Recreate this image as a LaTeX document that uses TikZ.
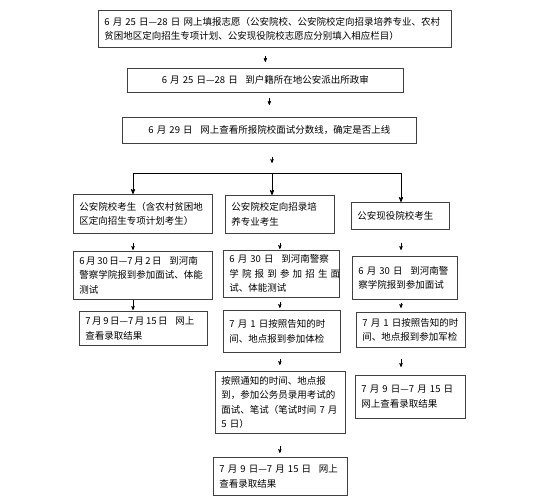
\documentclass[tikz,border=0pt]{standalone}
\usepackage{fontspec}
\setmainfont{Noto Sans CJK SC}
\usetikzlibrary{arrows,positioning}
\newcommand\wgap{\hspace{0.8em}}

\begin{document}
\begin{tikzpicture}[x=1pt,y=-1pt,
  box/.style 2 args={draw=black!75, line width=0.7pt, anchor=north west, align=left,
    inner xsep=6pt, inner ysep=2pt, text width=#1, minimum height=#2,
    font=\fontsize{9.5}{14.5}\selectfont},
  arr/.style={->, >=stealth', line width=0.5pt},
  brarr/.style={->, >=stealth', line width=0.8pt}]
  \useasboundingbox (0,0) rectangle (550,501);

  % top steps
  \node[box={341pt}{37pt}] (fill) at (98,10)
    {\mbox{6~月~25~日—28~日~网上填报志愿（公安院校、公安院校定向招录培养专业、农村}\\
     贫困地区定向招生专项计划、公安现役院校志愿应分别填入相应栏目）};
  \node[box={264pt}{24pt}, align=center] (audit) at (127,68)
    {\mbox{6~月~25~日—28~日\wgap 到户籍所在地公安派出所政审}};
  \node[box={282pt}{26pt}, align=center] (line) at (122,117)
    {\mbox{6~月~29~日\wgap 网上查看所报院校面试分数线，确定是否上线}};

  % branch
  \coordinate (jl) at (133,173);
  \coordinate (jm) at (272,173);
  \coordinate (jr) at (401,173);

  % left column
  \node[box={127pt}{39pt}] (ga) at (73,194)
    {公安院校考生（含农村贫困地\\区定向招生专项计划考生）};
  \node[box={127pt}{48pt}] (gatest) at (73,251)
    {\mbox{6\,月\,30\,日—7\,月\,2\,日\wgap 到河南}\\警察学院报到参加面试、体能\\测试};
  \node[box={116pt}{34pt}] (garesult) at (79,311)
    {\mbox{7\,月\,9\,日—7\,月\,15\,日\wgap 网上}\\查看录取结果};

  % middle column
  \node[box={97pt}{38pt}] (dx) at (225,195)
    {公安院校定向招录培\\养专业考生};
  \node[box={104pt}{47pt}] (dxtest) at (223,250)
    {\mbox{6~月~30~日\wgap 到河南警察}\\\makebox[\linewidth][s]{学 院 报 到 参 加 招 生 面}\\试、体能测试};
  \node[box={105pt}{42pt}] (dxcheck) at (223,310)
    {\mbox{7~月~1~日按照告知的时}\\间、地点报到参加体检};
  \node[box={118pt}{62pt}] (dxexam) at (215,371)
    {按照通知的时间、地点报\\到，参加公务员录用考试的\\\mbox{面试、笔试（笔试时间~7~月}\\5~日）};
  \node[box={122pt}{38pt}] (dxresult) at (213,457)
    {\mbox{7~月~9~日—7~月~15~日\wgap 网上}\\查看录取结果};

  % right column
  \node[box={86pt}{27pt}] (xy) at (351,202) {公安现役院校考生};
  \node[box={93pt}{43pt}] (xytest) at (352,256)
    {\mbox{6~月~30~日\wgap 到河南警}\\察学院报到参加面试};
  \node[box={97pt}{35pt}] (xycheck) at (356,312)
    {\mbox{7~月~1~日按照告知的时}\\间、地点报到参加军检};
  \node[box={98pt}{43pt}] (xyresult) at (355,375)
    {\mbox{7~月~9~日—7~月~15~日}\\网上查看录取结果};

  % arrows
  \draw[arr, shorten <=8pt, shorten >=6pt] (fill.south -| audit.north) -- (audit.north);
  \draw[arr, shorten <=5pt, shorten >=12pt] (audit.south -| line.north) -- (line.north);
  \draw[arr, shorten <=13pt, shorten >=10pt] (line.south -| jm) -- (jm);
  \draw[line width=0.8pt] (jl) -- (jr);
  \draw[brarr] (jl) -- (jl |- ga.north);
  \draw[brarr] (jm) -- (jm |- dx.north);
  \draw[brarr] (jr) -- (jr |- xy.north);

  \draw[arr, shorten <=9pt, shorten >=1pt] (ga.south -| jl) -- (gatest.north -| jl);
  \draw[arr, shorten >=1pt] (gatest.south -| jl) -- (garesult.north -| jl);

  \draw[arr, shorten <=9pt, shorten >=1pt] (dx.south) -- (dxtest.north -| dx.south);
  \draw[arr, shorten <=4pt, shorten >=2pt] (dxtest.south -| dx.south) -- (dxcheck.north -| dx.south);
  \draw[arr, shorten <=6pt, shorten >=6pt] (dxcheck.south -| dx.south) -- (dxexam.north -| dx.south);
  \draw[arr, shorten <=12pt, shorten >=4pt] (dxexam.south -| dx.south) -- (dxresult.north -| dx.south);

  \draw[arr, shorten <=13pt, shorten >=6pt] (xy.south -| jr) -- (xytest.north -| jr);
  \draw[arr, shorten <=3pt, shorten >=4pt] (xytest.south -| jr) -- (xycheck.north -| jr);
  \draw[arr, shorten <=11pt, shorten >=8pt] (xycheck.south -| jr) -- (xyresult.north -| jr);
\end{tikzpicture}
\end{document}
